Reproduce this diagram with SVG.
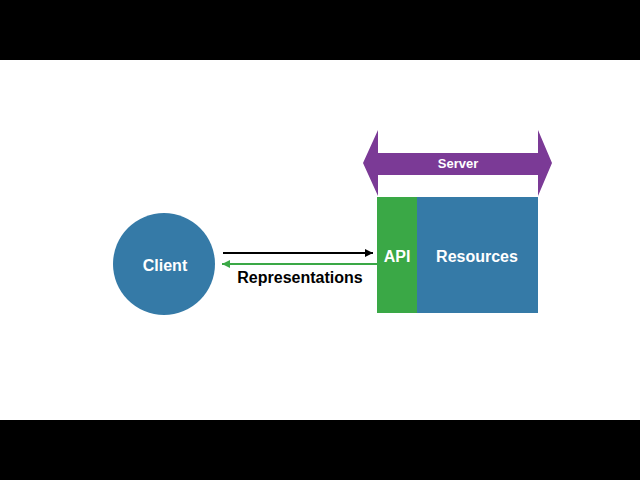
<svg xmlns="http://www.w3.org/2000/svg" width="640" height="480" viewBox="0 0 640 480">
<defs>
<style>
text{font-family:"Liberation Sans",Arial,sans-serif;font-weight:bold;text-anchor:middle}
.w{fill:#ffffff}
</style>
<marker id="ab" viewBox="0 0 10 10" refX="10" refY="5" markerWidth="8" markerHeight="8" markerUnits="userSpaceOnUse" orient="auto"><path d="M0,0 L10,5 L0,10 Z" fill="#000"/></marker>
<marker id="ag" viewBox="0 0 10 10" refX="10" refY="5" markerWidth="8" markerHeight="8" markerUnits="userSpaceOnUse" orient="auto"><path d="M0,0 L10,5 L0,10 Z" fill="#3aa846"/></marker>
</defs>
<rect x="0" y="0" width="640" height="480" fill="#ffffff"/>
<rect x="0" y="0" width="640" height="60" fill="#000"/>
<rect x="0" y="420" width="640" height="60" fill="#000"/>
<g id="server">
<path d="M363,163 L378,130 L378,153 L538,153 L538,130 L552,163 L538,196 L538,175 L378,175 L378,196 Z" fill="#7b3a96"/>
<text class="w" x="458" y="168" font-size="13">Server</text>
</g>
<g id="client">
<circle cx="164" cy="264" r="51" fill="#357aa7"/>
<text class="w" x="165" y="271" font-size="16">Client</text>
</g>
<g id="api">
<rect x="377" y="197" width="40" height="116" fill="#3aa846"/>
<text class="w" x="397" y="262" font-size="16">API</text>
</g>
<g id="resources">
<rect x="417" y="197" width="121" height="116" fill="#357aa7"/>
<text class="w" x="477" y="262" font-size="16">Resources</text>
</g>
<g id="connectors">
<line x1="223" y1="253" x2="373" y2="253" stroke="#000" stroke-width="2" marker-end="url(#ab)"/>
<line x1="377" y1="264" x2="222" y2="264" stroke="#3aa846" stroke-width="2" marker-end="url(#ag)"/>
<text x="300" y="283" font-size="16" fill="#000">Representations</text>
</g>
</svg>
